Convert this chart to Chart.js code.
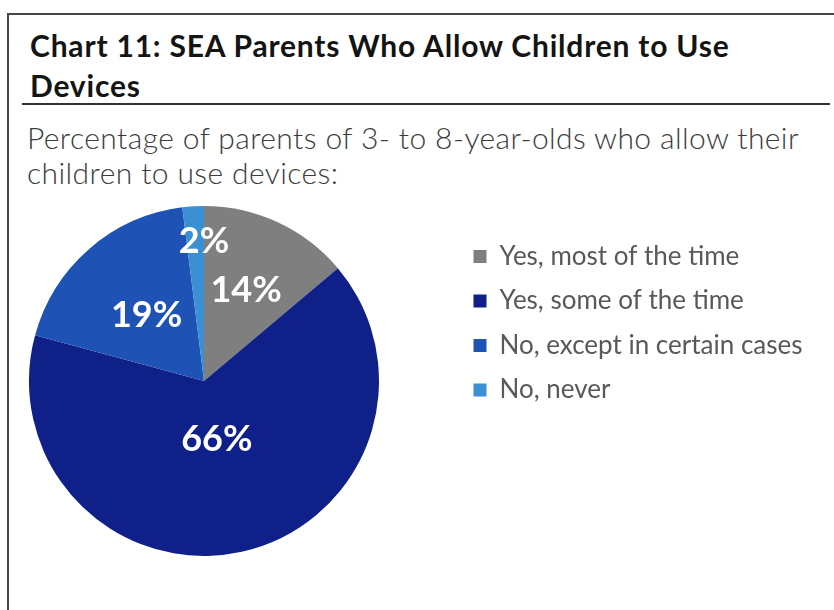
<!DOCTYPE html>
<html>
<head>
<meta charset="utf-8">
<script src="https://cdn.jsdelivr.net/npm/chart.js@4.4.1/dist/chart.umd.min.js"></script>
<style>
    html, body {
        margin: 0;
        padding: 0;
        background: #ffffff;
    }
    body {
        position: relative;
        width: 834px;
        height: 610px;
        overflow: hidden;
        font-family: Lato, "Open Sans", sans-serif;
    }
    .frame-top {
        position: absolute;
        left: 7px;
        top: 13px;
        width: 827px;
        height: 2px;
        background: #474747;
    }
    .frame-left {
        position: absolute;
        left: 7px;
        top: 13px;
        width: 2px;
        height: 597px;
        background: #474747;
    }
    .title {
        position: absolute;
        left: 30px;
        top: 25px;
        font-size: 30px;
        font-weight: 700;
        line-height: 40px;
        letter-spacing: 0.8px;
        color: #141414;
        white-space: nowrap;
    }
    .rule {
        position: absolute;
        left: 22px;
        top: 103px;
        width: 808px;
        height: 2px;
        background: #333333;
    }
    .subtitle {
        position: absolute;
        left: 27px;
        top: 120px;
        font-size: 30px;
        font-weight: 300;
        line-height: 35px;
        letter-spacing: 0.4px;
        color: #3c3c3c;
        white-space: nowrap;
    }
    #chart-wrap {
        position: absolute;
        left: -47px;
        top: 206px;
        width: 880px;
        height: 350px;
    }
</style>
</head>
<body>
<div class="frame-top"></div>
<div class="frame-left"></div>
<div class="title">Chart 11: SEA Parents Who Allow Children to Use<br>Devices</div>
<div class="rule"></div>
<div class="subtitle">Percentage of parents of 3- to 8-year-olds who allow their<br>children to use devices:</div>
<div id="chart-wrap"><canvas id="pieChart"></canvas></div>

<script>
// chart data
const categories = ['Yes, most of the time', 'Yes, some of the time', 'No, except in certain cases', 'No, never'];
const shares = [14, 66, 19, 2];
const sliceColors = ['#7f7f7f', '#0f2188', '#1e52b4', '#3a90d2'];

// where each % label sits: [fraction along the slice angle, fraction of radius]
const labelSpots = [[0.5, 0.57], [0.5, 0.34], [0.5, 0.5], [1.0, 0.8]];

const legendFontSize = 26;
const legendBox = 13;
const legendPad = 18.5;

// legend sits right of the chart area; work out its width so the pie stays where it should
const canvasWidth = 880;
const legendLeft = 502; // canvas px where legend box starts
const measureCtx = document.createElement('canvas').getContext('2d');
measureCtx.font = legendFontSize + 'px Lato';
const widestLabel = Math.max(...categories.map(c => measureCtx.measureText(c).width));
// chart.js adds 10px to vertical legends
const legendWidth = legendPad + legendBox + legendFontSize / 2 + widestLabel + 10;
const rightPad = canvasWidth - legendLeft - legendWidth;

const pctLabels = {
    id: 'pctLabels',
    afterDatasetsDraw(chart) {
        const ctx = chart.ctx;
        const arcs = chart.getDatasetMeta(0).data;
        ctx.save();
        ctx.fillStyle = '#ffffff';
        ctx.font = 'bold 36px Lato';
        ctx.textAlign = 'center';
        ctx.textBaseline = 'middle';
        arcs.forEach((arc, i) => {
            const p = arc.getProps(['x', 'y', 'startAngle', 'endAngle', 'outerRadius'], true);
            const ang = p.startAngle + (p.endAngle - p.startAngle) * labelSpots[i][0];
            const r = p.outerRadius * labelSpots[i][1];
            ctx.fillText(shares[i] + '%', p.x + Math.cos(ang) * r, p.y + Math.sin(ang) * r);
        });
        ctx.restore();
    }
};

new Chart(document.getElementById('pieChart'), {
    type: 'pie',
    data: {
        labels: categories,
        datasets: [{
            data: shares,
            backgroundColor: sliceColors,
            borderWidth: 0,
            radius: 175
        }]
    },
    options: {
        responsive: true,
        maintainAspectRatio: false,
        animation: false,
        layout: {
            padding: { top: 19, bottom: 19, left: 0, right: rightPad }
        },
        plugins: {
            legend: {
                position: 'right',
                align: 'start',
                labels: {
                    boxWidth: legendBox,
                    boxHeight: legendBox,
                    padding: legendPad,
                    textAlign: 'left',
                    color: '#595959',
                    font: { family: 'Lato', size: legendFontSize }
                }
            },
            tooltip: { enabled: false }
        }
    },
    plugins: [pctLabels]
});
</script>
</body>
</html>
